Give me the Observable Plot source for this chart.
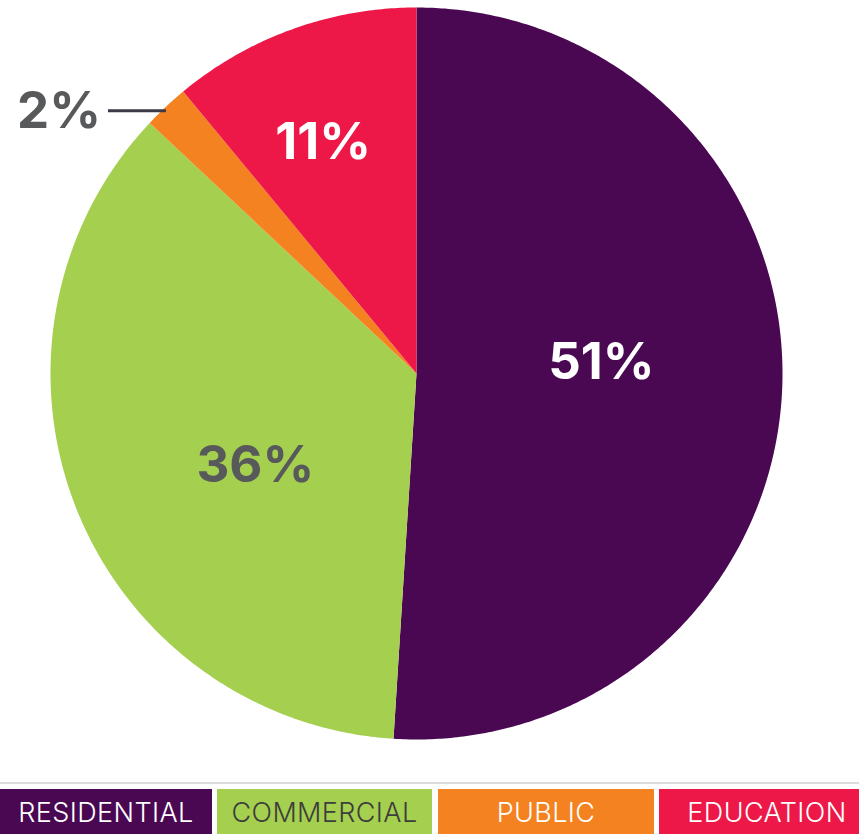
<!DOCTYPE html>
<html>
<head>
<meta charset="utf-8">
<script src="https://cdn.jsdelivr.net/npm/d3@7"></script>
<script src="https://cdn.jsdelivr.net/npm/@observablehq/plot@0.6"></script>
<style>
  html, body { margin: 0; padding: 0; background: #fff; overflow: hidden; }
  #chart svg { display: block; }
  #legend { border-top: 2px solid #dcdcdc; margin-top: 0px; padding-top: 5px; display: flex; width: 900px; }
  #legend div { flex: none; height: 46px; display: flex; align-items: center; justify-content: center;
    font-family: Inter, "Open Sans", sans-serif; font-weight: 300; font-size: 27px; letter-spacing: 0.4px; }
</style>
</head>
<body>
<div id="chart"></div>
<div id="legend"></div>
<script>
const categories = ["RESIDENTIAL", "COMMERCIAL", "PUBLIC", "EDUCATION"];
const values = [51, 36, 2, 11];
const labels = ["51%", "36%", "2%", "11%"];

const colors = ["#4a0853", "#a5cf4f", "#f58220", "#ed1847"];
const legendText = ["#ffffff", "#3d3d3d", "#ffffff", "#ffffff"];
const legendWidths = [212, 215, 216, 216];
const legendGaps = [5, 6, 5, 0];

const total = d3.sum(values);
let acc = 0;
const slices = categories.map((c, i) => {
  const a0 = acc / total * 2 * Math.PI;
  acc += values[i];
  const a1 = acc / total * 2 * Math.PI;
  return {c, a0, a1, mid: (a0 + a1) / 2, label: labels[i]};
});

const pts = slices.flatMap(s => {
  const n = Math.max(2, Math.ceil((s.a1 - s.a0) / (Math.PI / 360)));
  const arr = [{c: s.c, x: 0, y: 0}];
  for (let k = 0; k <= n; k++) {
    const a = s.a0 + (s.a1 - s.a0) * k / n;
    arr.push({c: s.c, x: Math.sin(a), y: Math.cos(a)});
  }
  return arr;
});

const at = (s, r) => ({x: r * Math.sin(s.mid), y: r * Math.cos(s.mid), text: s.label});
const S = Object.fromEntries(slices.map(s => [s.c, s]));

const pub = S["PUBLIC"];
const edge = at(pub, 1);
const leader = [{x1: edge.x, y1: edge.y, x2: edge.x - 58 / 366, y2: edge.y}];
const pubLabel = [{x: edge.x - 65 / 366, y: edge.y, text: pub.label}];

const font = "Inter, 'Open Sans', sans-serif";
const lbl = {x: "x", y: "y", text: "text", fontSize: 51, fontWeight: 700, fontFamily: font};

const chart = Plot.plot({
  width: 859,
  height: 782,
  marginLeft: 50,
  marginRight: 77,
  marginTop: 7,
  marginBottom: 43,
  x: {domain: [-1, 1], axis: null},
  y: {domain: [-1, 1], axis: null},
  color: {domain: categories, range: colors},
  marks: [
    Plot.line(pts, {x: "x", y: "y", z: "c", fill: "c", stroke: "none", curve: "linear-closed"}),
    Plot.text([at(S["RESIDENTIAL"], 0.5)], {...lbl, fill: "#ffffff", dx: 2, dy: -17}),
    Plot.text([at(S["COMMERCIAL"], 0.5)], {...lbl, fill: "#58595b", dx: 9, dy: 25}),
    Plot.text([at(S["EDUCATION"], 0.68)], {...lbl, fill: "#ffffff", dx: -9, dy: 3}),
    Plot.link(leader, {x1: "x1", y1: "y1", x2: "x2", y2: "y2", stroke: "#3a3a46", strokeWidth: 3, dy: 4}),
    Plot.text(pubLabel, {...lbl, fill: "#58595b", textAnchor: "end", dy: 5})
  ]
});
document.getElementById("chart").appendChild(chart);

const legend = document.getElementById("legend");
categories.forEach((c, i) => {
  const d = document.createElement("div");
  d.textContent = c;
  d.style.background = colors[i];
  d.style.color = legendText[i];
  d.style.width = legendWidths[i] + "px";
  d.style.marginRight = legendGaps[i] + "px";
  legend.appendChild(d);
});
</script>
</body>
</html>
